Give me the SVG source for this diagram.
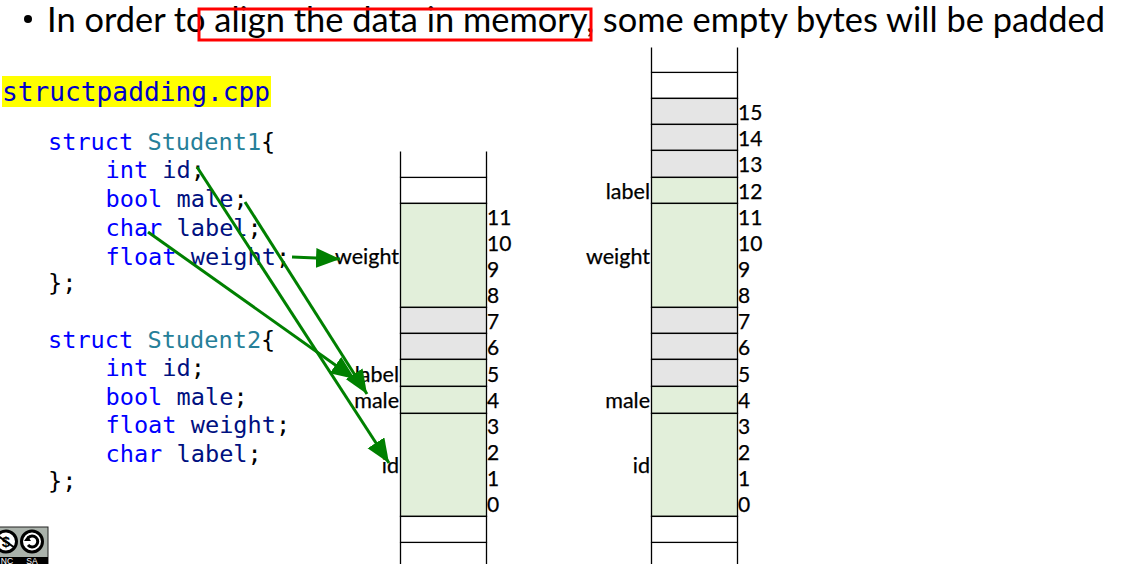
<svg xmlns="http://www.w3.org/2000/svg" width="1126" height="564" viewBox="0 0 1126 564">
<style>
.t{font-family:"Lato","Liberation Sans",sans-serif;fill:#000}
.n{font-size:21px;stroke:#000;stroke-width:.25}
.l{font-size:21.5px;stroke:#000;stroke-width:.25;text-anchor:end}
.c{font-family:"DejaVu Sans Mono",monospace;font-size:23.6px;fill:#000}
.k{fill:#0000ff}.y{fill:#267f99}.v{fill:#001080}
.g{fill:#e2efda;stroke:#000;stroke-width:1.3}
.p{fill:#e5e5e5;stroke:#000;stroke-width:1.3}
.w{fill:#fff;stroke:#000;stroke-width:1.3}
.s{stroke:#000;stroke-width:1.3;fill:none}
.a{stroke:#008000;stroke-width:3;fill:none;marker-end:url(#h)}
</style>
<defs>
<marker id="h" markerUnits="userSpaceOnUse" markerWidth="26" markerHeight="22" refX="24" refY="10" orient="auto"><path d="M0 0L24 10L0 20Z" fill="#008000"/></marker>
</defs>
<rect width="1126" height="564" fill="#fff"/>
<g id="title">
<circle cx="28" cy="19" r="4" fill="#000"/>
<text class="t" x="47" y="32" font-size="34" textLength="1058" lengthAdjust="spacingAndGlyphs">In order to align the data in memory, some empty bytes will be padded</text>
<rect x="199" y="9" width="392" height="31" fill="none" stroke="#f00" stroke-width="3"/>
</g>
<g id="filename">
<rect x="2" y="76" width="269" height="31" fill="#ff0"/>
<text x="2" y="101" font-family="DejaVu Sans Mono,monospace" font-size="26.2" fill="#0000cc">structpadding.cpp</text>
</g>
<g id="code">
<text class="c" x="48" y="150"><tspan class="k">struct</tspan> <tspan class="y">Student1</tspan>{</text>
<text class="c" x="105.500" y="178"><tspan class="k">int</tspan> <tspan class="v">id</tspan>;</text>
<text class="c" x="105.500" y="207"><tspan class="k">bool</tspan> <tspan class="v">male</tspan>;</text>
<text class="c" x="105.500" y="236"><tspan class="k">char</tspan> <tspan class="v">label</tspan>;</text>
<text class="c" x="105.500" y="265"><tspan class="k">float</tspan> <tspan class="v">weight</tspan>;</text>
<text class="c" x="48" y="291">};</text>
<text class="c" x="48" y="348"><tspan class="k">struct</tspan> <tspan class="y">Student2</tspan>{</text>
<text class="c" x="105.500" y="376"><tspan class="k">int</tspan> <tspan class="v">id</tspan>;</text>
<text class="c" x="105.500" y="405"><tspan class="k">bool</tspan> <tspan class="v">male</tspan>;</text>
<text class="c" x="105.500" y="433"><tspan class="k">float</tspan> <tspan class="v">weight</tspan>;</text>
<text class="c" x="105.500" y="462"><tspan class="k">char</tspan> <tspan class="v">label</tspan>;</text>
<text class="c" x="48" y="489">};</text>
</g>
<g id="stack1" transform="translate(0 .4)">
<path class="s" d="M400.5 151V177M486.5 151V177"/>
<rect class="w" x="400.5" y="177" width="86" height="26"/>
<rect class="g" x="400.5" y="203" width="86" height="104"/>
<rect class="p" x="400.5" y="307" width="86" height="26"/>
<rect class="p" x="400.5" y="333" width="86" height="26"/>
<rect class="g" x="400.5" y="359" width="86" height="27"/>
<rect class="g" x="400.5" y="386" width="86" height="27"/>
<rect class="g" x="400.5" y="413" width="86" height="103"/>
<rect class="w" x="400.5" y="516" width="86" height="26"/>
<path class="s" d="M400.5 542V564M486.5 542V564"/>
<g class="t n">
<text x="487" y="225">11</text><text x="487" y="251">10</text><text x="487" y="277">9</text><text x="487" y="303">8</text><text x="487" y="329">7</text><text x="487" y="355">6</text><text x="487" y="382">5</text><text x="487" y="408">4</text><text x="487" y="434">3</text><text x="487" y="460">2</text><text x="487" y="486">1</text><text x="487" y="512">0</text>
</g>
<g class="t l">
<text x="399" y="264">weight</text><text x="399" y="382">label</text><text x="399" y="408">male</text><text x="399" y="473">id</text>
</g>
</g>
<g id="stack2" transform="translate(0 .4)">
<path class="s" d="M651.5 47V72M737.5 47V72"/>
<rect class="w" x="651.5" y="72" width="86" height="26"/>
<rect class="p" x="651.5" y="98" width="86" height="26"/>
<rect class="p" x="651.5" y="124" width="86" height="26"/>
<rect class="p" x="651.5" y="150" width="86" height="27"/>
<rect class="g" x="651.5" y="177" width="86" height="26"/>
<rect class="g" x="651.5" y="203" width="86" height="104"/>
<rect class="p" x="651.5" y="307" width="86" height="26"/>
<rect class="p" x="651.5" y="333" width="86" height="26"/>
<rect class="p" x="651.5" y="359" width="86" height="27"/>
<rect class="g" x="651.5" y="386" width="86" height="27"/>
<rect class="g" x="651.5" y="413" width="86" height="103"/>
<rect class="w" x="651.5" y="516" width="86" height="26"/>
<path class="s" d="M651.5 542V564M737.5 542V564"/>
<g class="t n">
<text x="738" y="120">15</text><text x="738" y="146">14</text><text x="738" y="172">13</text><text x="738" y="199">12</text><text x="738" y="225">11</text><text x="738" y="251">10</text><text x="738" y="277">9</text><text x="738" y="303">8</text><text x="738" y="329">7</text><text x="738" y="355">6</text><text x="738" y="382">5</text><text x="738" y="408">4</text><text x="738" y="434">3</text><text x="738" y="460">2</text><text x="738" y="486">1</text><text x="738" y="512">0</text>
</g>
<g class="t l">
<text x="650" y="199">label</text><text x="650" y="264">weight</text><text x="650" y="408">male</text><text x="650" y="473">id</text>
</g>
</g>
<g id="connectors">
<line class="a" x1="197" y1="167" x2="389" y2="463"/>
<line class="a" x1="245" y1="202" x2="367" y2="394"/>
<line class="a" x1="148" y1="232" x2="355" y2="379"/>
<line class="a" x1="292" y1="257" x2="340" y2="259"/>
</g>
<g id="license">
<rect x="-2" y="527" width="50" height="39" fill="#aab2ab" stroke="#222" stroke-width="1"/>
<rect x="-2" y="557" width="50" height="8" fill="#000"/>
<circle cx="6" cy="541.500" r="10.500" fill="#fff" stroke="#000" stroke-width="3"/>
<text x="6" y="547" font-family="Liberation Sans,sans-serif" font-size="15" font-weight="700" text-anchor="middle">$</text>
<path d="M-3 535L15 548" stroke="#000" stroke-width="2"/>
<circle cx="32" cy="541.500" r="10.500" fill="#fff" stroke="#000" stroke-width="3"/>
<path d="M28 538A5.500 5.500 0 1 1 28 545" fill="none" stroke="#000" stroke-width="3"/>
<path d="M24 541H31L27.500 536Z" fill="#000"/>
<text x="7" y="563.500" font-family="Liberation Sans,sans-serif" font-size="8.500" fill="#fff" text-anchor="middle">NC</text>
<text x="32" y="563.500" font-family="Liberation Sans,sans-serif" font-size="8.500" fill="#fff" text-anchor="middle">SA</text>
</g>
</svg>
